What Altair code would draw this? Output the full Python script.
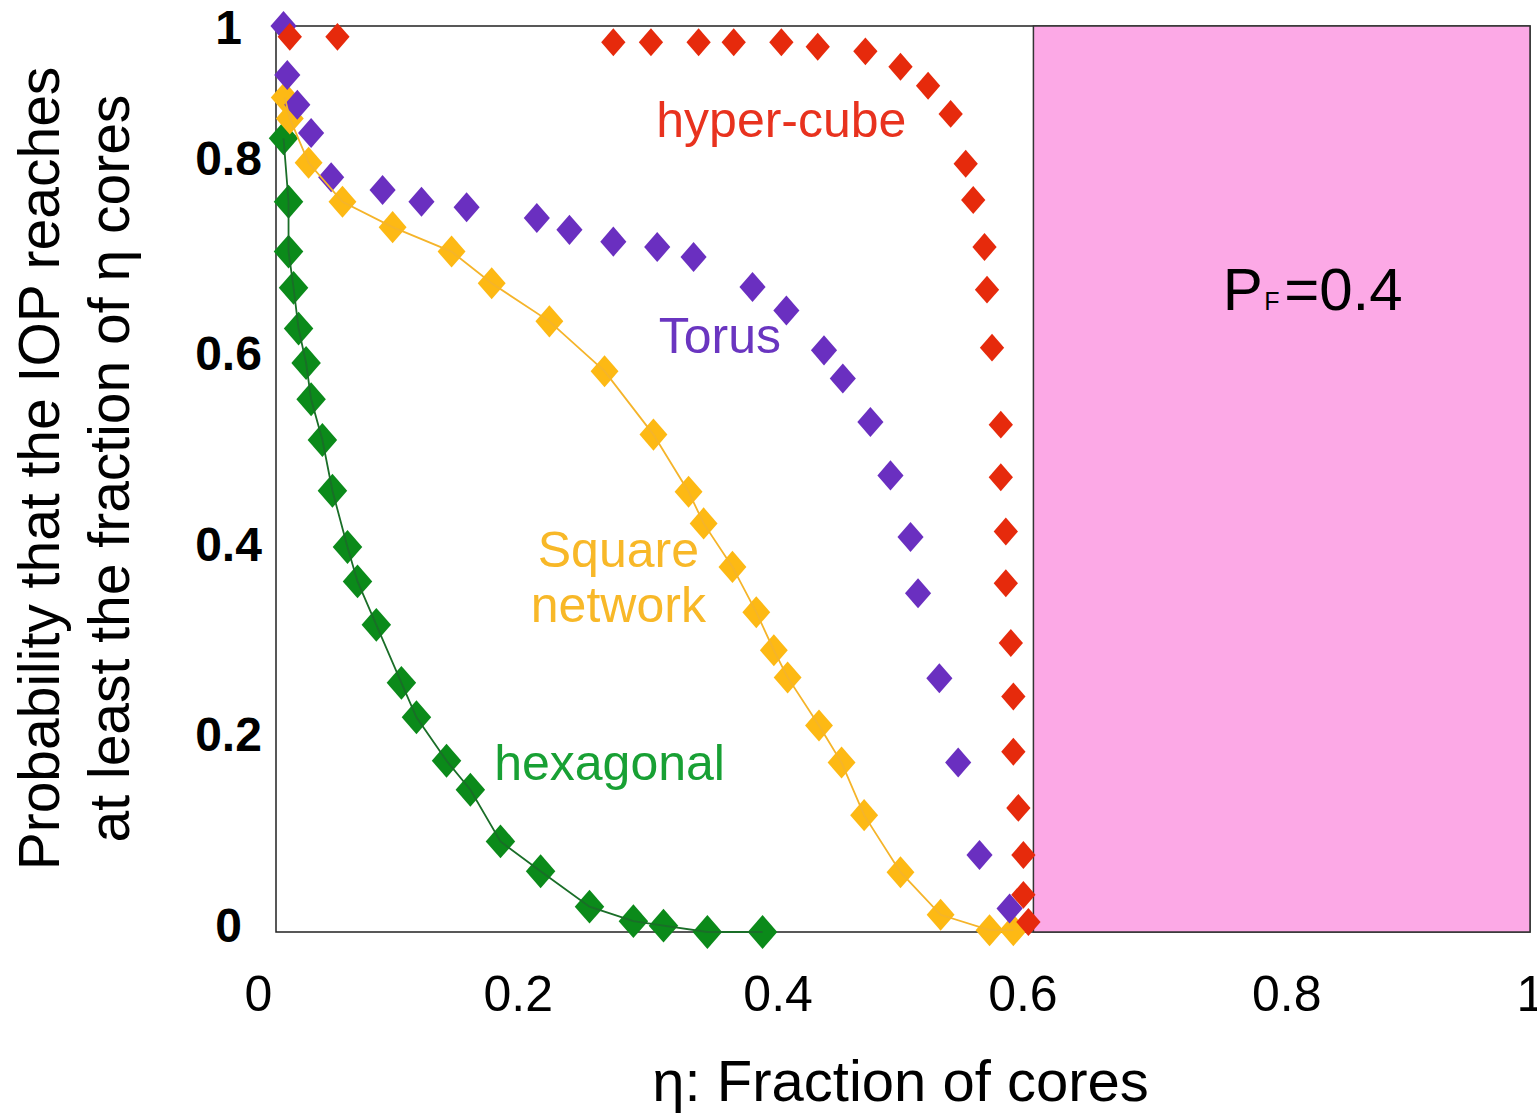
import altair as alt
import pandas as pd

FONT = "Liberation Sans"

# ---- data ----
hyper_eta = [0.011, 0.049, 0.269, 0.299, 0.337, 0.365, 0.403, 0.432, 0.470, 0.498, 0.520, 0.538, 0.550, 0.556,
             0.565, 0.567, 0.571, 0.578, 0.578, 0.582, 0.582, 0.586, 0.588, 0.588, 0.592, 0.596, 0.596, 0.600]
hyper_p = [0.988, 0.988, 0.982, 0.982, 0.982, 0.982, 0.982, 0.977, 0.972, 0.955, 0.934, 0.903, 0.848, 0.808,
           0.756, 0.709, 0.645, 0.560, 0.502, 0.442, 0.385, 0.319, 0.260, 0.199, 0.137, 0.085, 0.041, 0.011]

torus_eta = [0.006, 0.009, 0.017, 0.028, 0.044, 0.085, 0.116, 0.152, 0.208, 0.234, 0.269, 0.304, 0.333,
             0.380, 0.407, 0.437, 0.452, 0.474, 0.490, 0.506, 0.512, 0.529, 0.544, 0.561, 0.585]
torus_p = [1.0, 0.946, 0.913, 0.882, 0.833, 0.819, 0.806, 0.800, 0.788, 0.775, 0.762, 0.756, 0.745,
           0.712, 0.686, 0.642, 0.611, 0.563, 0.504, 0.436, 0.374, 0.280, 0.187, 0.085, 0.026]

square_eta = [0.007, 0.011, 0.026, 0.053, 0.093, 0.140, 0.172, 0.218, 0.262, 0.301, 0.329, 0.341, 0.364,
              0.383, 0.397, 0.408, 0.433, 0.451, 0.469, 0.498, 0.530, 0.569, 0.588]
square_p = [0.921, 0.898, 0.849, 0.806, 0.778, 0.751, 0.716, 0.674, 0.619, 0.549, 0.486, 0.451, 0.403,
            0.353, 0.311, 0.281, 0.228, 0.187, 0.129, 0.066, 0.019, 0.002, 0.002]

hex_eta = [0.006, 0.010, 0.010, 0.014, 0.018, 0.024, 0.028, 0.037, 0.045, 0.057, 0.065, 0.080, 0.100,
           0.112, 0.136, 0.155, 0.179, 0.211, 0.250, 0.285, 0.309, 0.344, 0.388]
hex_p = [0.876, 0.806, 0.751, 0.711, 0.666, 0.628, 0.588, 0.543, 0.487, 0.425, 0.387, 0.339, 0.275,
         0.237, 0.189, 0.157, 0.100, 0.067, 0.028, 0.012, 0.007, 0.000, 0.000]

series_names = ["hexagonal", "Square network", "Torus", "hyper-cube"]
series_colors = ["#0b8a1a", "#fdb914", "#6a2fc0", "#e62a0c"]
series_sizes = [1150, 780, 1300, 1180]

x_ticks = [0, 0.2, 0.4, 0.6, 0.8, 1]
y_ticks = [0, 0.2, 0.4, 0.6, 0.8, 1]

# shaded region (P_F = 0.4)
region_x0 = [0.604]
region_x1 = [1.0]
region_y0 = [0.0]
region_y1 = [1.0]

label_text = ["hyper-cube", "Torus", "Square", "network", "hexagonal"]
label_x = [0.403, 0.354, 0.273, 0.273, 0.266]
label_y = [0.877, 0.639, 0.403, 0.342, 0.168]
label_color = ["#e8321e", "#6a35c0", "#f8b828", "#f8b828", "#18a034"]

pf_text = ["P", "F", "=0.4"]
pf_x = [0.755, 0.788, 0.804]
pf_y = [0.687, 0.687, 0.687]
pf_size = [60, 25, 60]

# ---- tables ----
rows = []
for name, xs, ys in [("hexagonal", hex_eta, hex_p), ("Square network", square_eta, square_p),
                     ("Torus", torus_eta, torus_p), ("hyper-cube", hyper_eta, hyper_p)]:
    for i, (a, b) in enumerate(zip(xs, ys)):
        rows.append({"series": name, "eta": a, "p": b, "order": i})
df = pd.DataFrame(rows)

region_df = pd.DataFrame({"x0": region_x0, "x1": region_x1, "y0": region_y0, "y1": region_y1})
label_df = pd.DataFrame({"text": label_text, "x": label_x, "y": label_y, "color": label_color})
pf_df = pd.DataFrame({"text": pf_text, "x": pf_x, "y": pf_y, "size": pf_size})

# visual offsets of the tick labels as they appear in the picture
y_label_shift = [-5, -14, -23, -33, -47, 3]
x_label_shift = [-18, -9, 0, -6, 7, 0]


def cond(ticks, shifts):
    return {"condition": [{"test": f"abs(datum.value - {v}) < 0.001", "value": o}
                          for v, o in zip(ticks, shifts) if o != 0], "value": 0}


x_scale = alt.Scale(domain=[0, 1], nice=False, zero=False)
y_scale = alt.Scale(domain=[0, 1], nice=False, zero=False)

x_axis = alt.Axis(values=x_ticks, format="~g", title="η: Fraction of cores", grid=False, ticks=False,
                  tickSize=0, domain=False, labelFont=FONT, labelFontSize=50, labelColor="#000",
                  labelPadding=38, labelFlush=False, labelOverlap=False,
                  labelOffset=cond(x_ticks, x_label_shift),
                  titleFont=FONT, titleFontSize=58, titleFontWeight="normal", titleColor="#000",
                  titleBaseline="alphabetic", titleY=168, titleX=624)
y_axis = alt.Axis(values=y_ticks, format="~g",
                  title=["Probability that the IOP reaches", "at least the fraction of η cores"],
                  grid=False, ticks=False, tickSize=0, domain=False, labelFont=FONT, labelFontSize=48,
                  labelFontWeight="bold", labelColor="#000", labelAlign="center", labelBaseline="middle",
                  labelPadding=48, labelFlush=False, labelOverlap=False,
                  labelOffset=cond(y_ticks, y_label_shift),
                  titleFont=FONT, titleFontSize=57, titleFontWeight="normal", titleColor="#000",
                  titleLineHeight=70, titleAngle=270, titleAlign="center", titleBaseline="alphabetic",
                  titleX=-218, titleY=442)

X = lambda f: alt.X(f, type="quantitative", scale=x_scale, axis=x_axis)
Y = lambda f: alt.Y(f, type="quantitative", scale=y_scale, axis=y_axis)

region = alt.Chart(region_df).mark_rect(fill="#fca9e6", stroke="#333333", strokeWidth=1.5).encode(
    x=X("x0"), x2="x1", y=Y("y0"), y2="y1")

color_scale = alt.Scale(domain=series_names, range=series_colors)
size_scale = alt.Scale(domain=series_names, range=series_sizes)

diamond = "M0,-1L0.87,0L0,1L-0.87,0Z"
points = alt.Chart(df).mark_point(shape=diamond, filled=True, opacity=1, strokeWidth=0).encode(
    x=X("eta"), y=Y("p"),
    color=alt.Color("series:N", scale=color_scale, legend=None),
    size=alt.Size("series:N", scale=size_scale, legend=None))

line_sq = alt.Chart(df).transform_filter(alt.datum.series == "Square network").mark_line(
    color="#f5b42a", strokeWidth=1.8).encode(x=X("eta"), y=Y("p"), order="order:Q")
line_hex = alt.Chart(df).transform_filter(alt.datum.series == "hexagonal").mark_line(
    color="#1a6e28", strokeWidth=1.8).encode(x=X("eta"), y=Y("p"), order="order:Q")

labels = alt.Chart(label_df).mark_text(font=FONT, fontSize=50, align="center", baseline="alphabetic").encode(
    x=X("x"), y=Y("y"), text="text:N", color=alt.Color("color:N", scale=None))

pf = alt.Chart(pf_df).mark_text(font=FONT, align="left", baseline="alphabetic", color="#000").encode(
    x=X("x"), y=Y("y"), text="text:N", size=alt.Size("size:Q", scale=None))

chart = alt.layer(region, points, line_hex, line_sq, labels, pf).properties(
    width=1254, height=906,
    autosize=alt.AutoSizeParams(type="none"),
    padding={"left": 276, "top": 26, "right": 7, "bottom": 182},
    background="white",
).configure_view(stroke="#222222", strokeWidth=1.5)

chart.save("out.html", embed_options={"renderer": "svg", "actions": False})
